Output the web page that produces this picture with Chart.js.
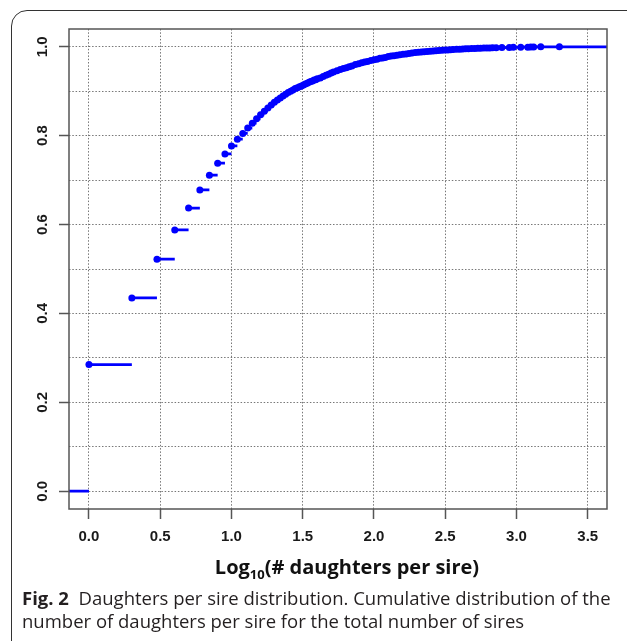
<!DOCTYPE html>
<html>
<head>
<meta charset="utf-8">
<script src="https://cdn.jsdelivr.net/npm/chart.js@4.4.1/dist/chart.umd.min.js"></script>
<style>
html,body{margin:0;padding:0;background:#fff;}
#wrap{position:relative;width:627px;height:641px;overflow:hidden;background:#fff;}
#frame{position:absolute;left:11px;top:10px;width:720px;height:720px;border:1.4px solid #333;border-radius:16px;box-sizing:border-box;}
#c{position:absolute;left:0;top:0;}
#xtitle{position:absolute;top:555px;left:0;width:694px;text-align:center;font-family:"Open Sans",sans-serif;font-weight:bold;font-size:20px;line-height:24px;color:#111;}
#xtitle sub{font-size:13px;vertical-align:-5px;line-height:0;}
#caption{position:absolute;left:22px;top:586px;width:605px;font-family:"Open Sans",sans-serif;font-size:18.5px;line-height:23px;color:#231f20;white-space:nowrap;}
#caption b{font-weight:bold;}
</style>
</head>
<body>
<div id="wrap">
  <div id="frame"></div>
  <canvas id="c" width="627" height="641"></canvas>
  <div id="xtitle">Log<sub>10</sub>(# daughters per sire)</div>
  <div id="caption"><b>Fig. 2</b>&nbsp; Daughters per sire distribution. Cumulative distribution of the<br>number of daughters per sire for the total number of sires</div>
</div>
<script>
// Number of daughters per sire (knots of the empirical CDF)
const daughtersPerSire = [
  1,2,3,4,5,6,7,8,9,10,11,12,13,14,15,16,17,18,19,20,
  21,22,23,24,25,26,27,28,29,30,31,32,33,34,35,36,37,38,39,40,
  42,44,46,48,50,52,55,58,61,64,67,70,74,78,82,86,90,95,100,
  105,110,115,120,126,132,138,145,152,160,168,176,185,195,205,215,225,236,248,260,
  272,285,300,315,330,345,360,380,400,420,440,460,485,510,535,560,590,620,650,680,
  720,790,890,950,1070,1200,1260,1320,1480,2000
];
// Cumulative share of sires (empirical CDF value at each knot)
const cumulativeShare = [
  0.285,0.435,0.522,0.588,0.637,0.678,0.711,0.738,0.759,0.777,0.792,0.805,0.817,0.828,0.838,0.847,0.855,0.862,0.869,0.875,
  0.880,0.885,0.889,0.893,0.897,0.900,0.903,0.906,0.908,0.910,0.912,0.914,0.916,0.918,0.920,0.922,0.923,0.925,0.926,0.928,
  0.930,0.933,0.936,0.938,0.941,0.943,0.946,0.949,0.951,0.953,0.955,0.957,0.960,0.962,0.964,0.966,0.967,0.969,0.971,
  0.972,0.974,0.975,0.976,0.978,0.979,0.980,0.981,0.982,0.983,0.984,0.985,0.986,0.987,0.9875,0.988,0.989,0.9895,0.990,0.9905,
  0.991,0.9915,0.992,0.9925,0.993,0.9935,0.994,0.9943,0.9947,0.995,0.9953,0.9956,0.9959,0.9962,0.9965,0.9967,0.997,0.9972,0.9975,0.9977,
  0.998,0.9983,0.9986,0.9988,0.999,0.9992,0.9994,0.9996,0.9998,1.0
];
const xTickLabels = ["0.0","0.5","1.0","1.5","2.0","2.5","3.0","3.5"];
const yTickLabels = ["0.0","0.2","0.4","0.6","0.8","1.0"];

const X_MIN = -0.14, X_MAX = 3.635, Y_MIN = -0.04, Y_MAX = 1.04;
const BLUE = "#0000ff";

const xs = daughtersPerSire.map(k => Math.log10(k));
const points = xs.map((x, i) => ({x: x, y: cumulativeShare[i]}));
const steps = [{x: X_MIN - 1, y: 0}, {x: xs[0], y: 0}, {x: xs[0], y: null}];
xs.forEach((x, i) => {
  const nx = i < xs.length - 1 ? xs[i + 1] : X_MAX + 1;
  steps.push({x: x, y: cumulativeShare[i]}, {x: nx, y: cumulativeShare[i]}, {x: nx, y: null});
});

const boxPlugin = {
  id: 'box',
  afterDraw(chart) {
    const a = chart.chartArea, ctx = chart.ctx;
    ctx.save();
    ctx.strokeStyle = '#555';
    ctx.lineWidth = 1.5;
    ctx.strokeRect(a.left, a.top, a.right - a.left, a.bottom - a.top);
    ctx.restore();
  }
};

const isMajorY = v => Math.abs(Math.round(v * 10) % 2) === 0;
const tickFont = {family: '"Liberation Sans", Arial, sans-serif', size: 15, weight: 'bold'};

new Chart(document.getElementById('c'), {
  type: 'scatter',
  data: {
    datasets: [
      {
        label: 'ECDF points',
        data: points,
        pointRadius: 3.5,
        pointHoverRadius: 3.5,
        pointBackgroundColor: BLUE,
        pointBorderWidth: 0,
        showLine: false
      },
      {
        label: 'ECDF steps',
        data: steps,
        showLine: true,
        spanGaps: false,
        borderColor: BLUE,
        borderWidth: 2.8,
        pointRadius: 0,
        tension: 0
      }
    ]
  },
  options: {
    responsive: false,
    animation: false,
    events: [],
    layout: {padding: {left: 0, top: 29, right: 20, bottom: 92}},
    plugins: {legend: {display: false}, tooltip: {enabled: false}},
    scales: {
      x: {
        type: 'linear',
        min: X_MIN, max: X_MAX,
        z: 1,
        afterFit(s) { s.height = 40; },
        ticks: {
          stepSize: 0.5,
          includeBounds: false,
          padding: 9,
          color: '#1a1a1a',
          font: tickFont,
          callback: (v) => xTickLabels[Math.round(v * 2)] ?? ''
        },
        grid: {
          color: '#777',
          lineWidth: 1,
          drawTicks: true,
          tickLength: 10,
          tickColor: '#555',
          tickWidth: 1.5
        },
        border: {display: false, dash: [1.5, 1.8]}
      },
      y: {
        type: 'linear',
        min: Y_MIN, max: Y_MAX,
        z: 1,
        afterFit(s) { s.width = 69; },
        ticks: {
          stepSize: 0.1,
          includeBounds: false,
          padding: 6,
          minRotation: 90,
          maxRotation: 90,
          crossAlign: 'center',
          color: '#1a1a1a',
          font: tickFont,
          callback: (v) => isMajorY(v) ? (yTickLabels[Math.round(v * 5)] ?? '') : ''
        },
        grid: {
          color: '#777',
          lineWidth: 1,
          drawTicks: true,
          tickLength: 10,
          tickColor: (ctx) => (ctx.tick && isMajorY(ctx.tick.value)) ? '#555' : 'rgba(0,0,0,0)',
          tickWidth: 1.5
        },
        border: {display: false, dash: [1.5, 1.8]}
      }
    }
  },
  plugins: [boxPlugin]
});
</script>
</body>
</html>
